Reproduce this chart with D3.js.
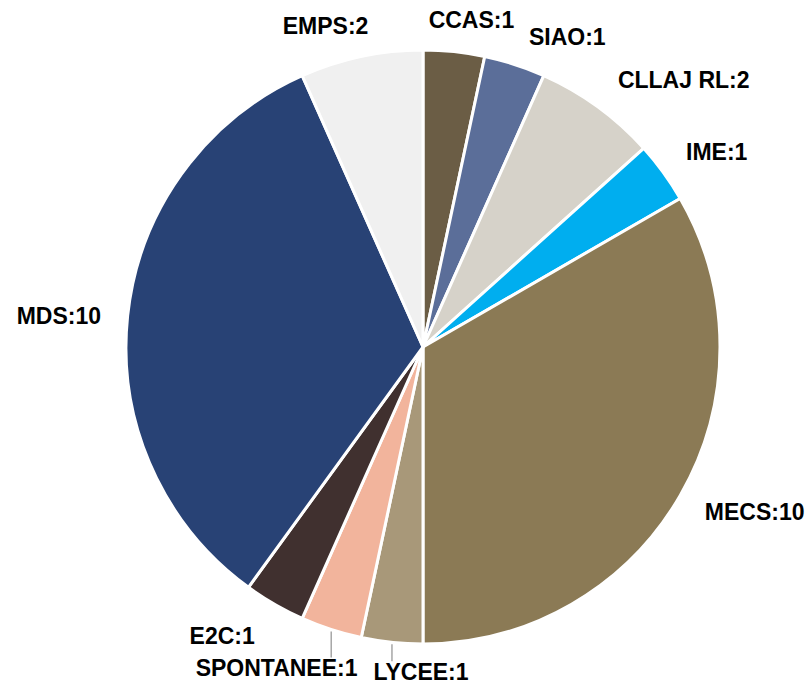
<!DOCTYPE html>
<html>
<head>
<meta charset="utf-8">
<script src="https://cdn.jsdelivr.net/npm/d3@7"></script>
<style>
  body { margin: 0; background: #fff; }
  text { font-family: "Liberation Sans", Arial, sans-serif; font-weight: bold; font-size: 23px; fill: #000; }
</style>
</head>
<body>
<svg id="chart"></svg>
<script>
const width = 810;
const height = 684;

// data, clockwise from 12 o'clock
const categories = ["CCAS", "SIAO", "CLLAJ RL", "IME", "MECS", "LYCEE", "SPONTANEE", "E2C", "MDS", "EMPS"];
const values = [1, 1, 2, 1, 10, 1, 1, 1, 10, 2];
const colors = ["#6b5d45", "#5b6e99", "#d6d2c9", "#00aeef", "#8b7a55", "#a89879", "#f2b49c", "#40302f", "#284275", "#f0f0f0"];

// label nudges (px) from the automatic outside position
const nudge = {
    "CCAS": [10, 9], "SIAO": [32, 11], "CLLAJ RL": [31, 6], "IME": [6, 4],
    "MECS": [7, -4], "LYCEE": [37, -11], "SPONTANEE": [-21, 0], "E2C": [-22, -4],
    "MDS": [1, 4], "EMPS": [-21, 10]
};
const leaders = ["SPONTANEE", "LYCEE"];

const cx = 423, cy = 347, r = 297;

const svg = d3.select('#chart')
    .attr('width', width)
    .attr('height', height);

const data = categories.map((c, i) => ({name: c, value: values[i], color: colors[i]}));

const pie = d3.pie().sort(null).value(d => d.value);
const arc = d3.arc().innerRadius(0).outerRadius(r);
const arcs = pie(data);

const g = svg.append('g').attr('transform', `translate(${cx},${cy})`);

g.selectAll('path.slice')
    .data(arcs)
    .enter().append('path')
    .attr('class', 'slice')
    .attr('d', arc)
    .attr('fill', d => d.data.color)
    .attr('stroke', '#fff')
    .attr('stroke-width', 3)
    .attr('stroke-linejoin', 'round');

// labels
const lr = r + 28;
arcs.forEach(d => {
    const a = (d.startAngle + d.endAngle) / 2;
    const s = Math.sin(a), c = Math.cos(a);
    const label = `${d.data.name}:${d.data.value}`;
    const t = g.append('text')
        .attr('text-anchor', 'middle')
        .attr('dominant-baseline', 'central')
        .text(label);
    const w = t.node().getComputedTextLength();
    const h = 26;
    const n = nudge[d.data.name] || [0, 0];
    const x = lr * s + s * w / 2 + n[0];
    const y = -lr * c - c * h / 2 + n[1];
    t.attr('x', x).attr('y', y);

    if (leaders.includes(d.data.name)) {
        const px = r * s, py = -r * c;
        g.append('line')
            .attr('x1', px).attr('y1', py + 2)
            .attr('x2', px).attr('y2', y - 11)
            .attr('stroke', '#a6a6a6')
            .attr('stroke-width', 1.5);
    }
});
</script>
</body>
</html>
